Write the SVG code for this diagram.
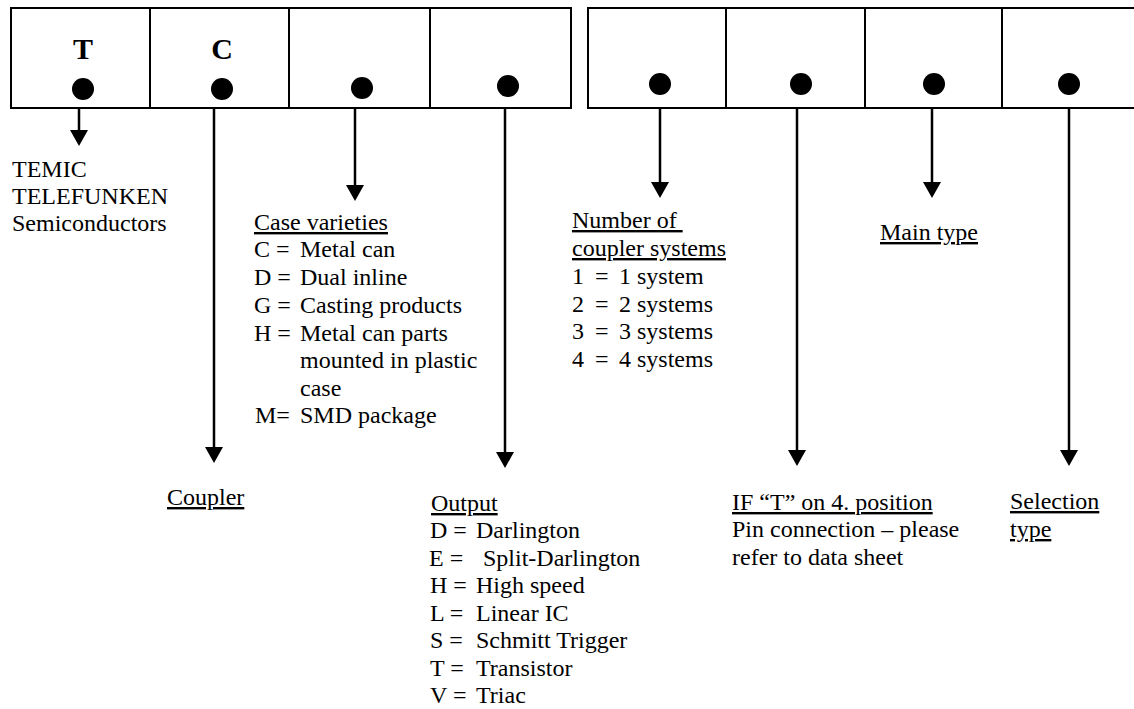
<svg xmlns="http://www.w3.org/2000/svg" width="1134" height="709" viewBox="0 0 1134 709">
<style>
text{font-family:"Liberation Serif","Times New Roman",serif;font-size:24px;fill:#000}
.b{font-weight:bold;font-size:30px;text-anchor:middle}
.u{text-decoration:underline}
.box{fill:#fff;stroke:#000;stroke-width:2}
.dot{fill:#000}
.arr{stroke:#000;stroke-width:2.5;fill:none;marker-end:url(#ah)}
</style>
<defs>
<marker id="ah" viewBox="0 0 16 18" refX="8" refY="9" markerWidth="16" markerHeight="18" markerUnits="userSpaceOnUse" orient="auto">
<path d="M0,0 L16,9 L0,18 z" fill="#000"/>
</marker>
</defs>
<rect width="1134" height="709" fill="#fff"/>
<g id="left-block">
<rect class="box" x="11" y="8" width="139" height="100"/>
<rect class="box" x="150" y="8" width="139" height="100"/>
<rect class="box" x="289" y="8" width="141" height="100"/>
<rect class="box" x="430" y="8" width="141" height="100"/>
<text class="b" x="83" y="59">T</text>
<text class="b" x="222" y="59">C</text>
<circle class="dot" cx="83" cy="89" r="11"/>
<circle class="dot" cx="222" cy="89" r="11"/>
<circle class="dot" cx="362" cy="88" r="11"/>
<circle class="dot" cx="508" cy="86" r="11"/>
</g>
<g id="right-block">
<rect class="box" x="588" y="8" width="138" height="100"/>
<rect class="box" x="726" y="8" width="139" height="100"/>
<rect class="box" x="865" y="8" width="137" height="100"/>
<rect class="box" x="1002" y="8" width="145" height="100"/>
<circle class="dot" cx="660" cy="84" r="11"/>
<circle class="dot" cx="801" cy="84" r="11"/>
<circle class="dot" cx="934" cy="84" r="11"/>
<circle class="dot" cx="1069" cy="84" r="11"/>
</g>
<g id="connectors">
<line class="arr" x1="79" y1="108" x2="79" y2="138"/>
<line class="arr" x1="214" y1="108" x2="214" y2="455"/>
<line class="arr" x1="355" y1="108" x2="355" y2="193"/>
<line class="arr" x1="505" y1="108" x2="505" y2="460"/>
<line class="arr" x1="660" y1="108" x2="660" y2="190"/>
<line class="arr" x1="797" y1="108" x2="797" y2="458"/>
<line class="arr" x1="932" y1="108" x2="932" y2="190"/>
<line class="arr" x1="1069" y1="108" x2="1069" y2="458"/>
</g>
<g id="maker">
<text x="12" y="177">TEMIC</text>
<text x="12" y="204">TELEFUNKEN</text>
<text x="12" y="231">Semiconductors</text>
</g>
<g id="coupler">
<text class="u" x="167" y="505">Coupler</text>
</g>
<g id="case">
<text class="u" x="254" y="230">Case varieties</text>
<text x="254" y="257">C =</text><text x="300" y="257">Metal can</text>
<text x="254" y="285">D =</text><text x="300" y="285">Dual inline</text>
<text x="254" y="313">G =</text><text x="300" y="313">Casting products</text>
<text x="254" y="341">H =</text><text x="300" y="341">Metal can parts</text>
<text x="300" y="368">mounted in plastic</text>
<text x="300" y="396">case</text>
<text x="255" y="423">M=</text><text x="300" y="423">SMD package</text>
</g>
<g id="output">
<text class="u" x="431" y="511">Output</text>
<text x="430" y="538">D =</text><text x="476" y="538">Darlington</text>
<text x="429" y="566">E =</text><text x="483" y="566">Split-Darlington</text>
<text x="430" y="593">H =</text><text x="476" y="593">High speed</text>
<text x="430" y="621">L =</text><text x="476" y="621">Linear IC</text>
<text x="430" y="648">S =</text><text x="476" y="648">Schmitt Trigger</text>
<text x="430" y="676">T =</text><text x="476" y="676">Transistor</text>
<text x="430" y="703">V =</text><text x="476" y="703">Triac</text>
</g>
<g id="systems">
<text class="u" x="572" y="228" xml:space="preserve">Number of </text>
<text class="u" x="572" y="256">coupler systems</text>
<text x="572" y="284">1</text><text x="595" y="284">=</text><text x="619" y="284">1 system</text>
<text x="572" y="312">2</text><text x="595" y="312">=</text><text x="619" y="312">2 systems</text>
<text x="572" y="339">3</text><text x="595" y="339">=</text><text x="619" y="339">3 systems</text>
<text x="572" y="367">4</text><text x="595" y="367">=</text><text x="619" y="367">4 systems</text>
</g>
<g id="pin">
<text class="u" x="732" y="510">IF “T” on 4. position</text>
<text x="732" y="537">Pin connection – please</text>
<text x="732" y="565">refer to data sheet</text>
</g>
<g id="main-type">
<text class="u" x="880" y="240">Main type</text>
</g>
<g id="selection">
<text class="u" x="1010" y="509">Selection</text>
<text class="u" x="1010" y="537">type</text>
</g>
</svg>
